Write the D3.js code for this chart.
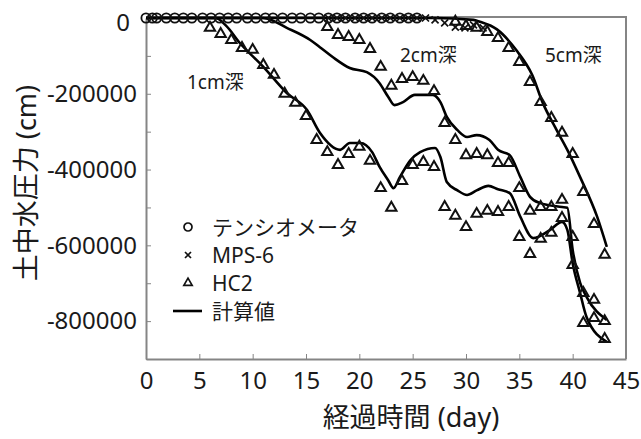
<!DOCTYPE html>
<html lang="ja">
<head>
<meta charset="utf-8">
<title>土中水圧力</title>
<script src="https://cdn.jsdelivr.net/npm/d3@7"></script>
<style>
  html, body { margin: 0; padding: 0; background: #fff; }
  svg text { font-family: "Noto Sans", "Noto Sans CJK JP", sans-serif; fill: #1a1a1a; }
  .axis path, .axis line { stroke: #858585; }
</style>
</head>
<body>
<script>
// テンシオメータ (all at 0)
var tensioDays = [0, 0.6, 1.0, 1.9, 2.7, 3.5, 4.3, 5.3, 6.1, 6.9, 7.7, 8.5, 9.5, 10.3, 11.2, 11.9, 12.8, 13.7, 14.5, 15.4, 16.2, 17.1, 17.9, 18.7, 19.6, 20.4, 21.2, 22.1, 22.9, 23.8, 24.6, 25.4];
var tensioValues = [0, 0, 0, 0, 0, 0, 0, 0, 0, 0, 0, 0, 0, 0, 0, 0, 0, 0, 0, 0, 0, 0, 0, 0, 0, 0, 0, 0, 0, 0, 0, 0];

// MPS-6
var mpsDays = [17.1, 17.9, 18.7, 19.6, 20.4, 21.2, 22.1, 22.9, 23.8, 24.6, 25.4, 26.2, 27.1, 28.0, 29.0, 29.9, 30.7, 31.6];
var mpsValues = [0, 0, 0, 0, 0, 0, 0, 0, 0, 0, 0, 0, -5000, -13000, -24000, -26000, -18000, -26000];

// HC2
var hcDays1 = [6, 7, 8, 9, 10, 11, 12, 13, 14, 15, 16, 17, 18, 19, 20, 21, 22, 23, 24, 25, 26, 27, 28, 29, 30, 31, 32, 33, 34, 35, 36, 37, 38, 39, 40, 41, 42, 43];
var hcValues1 = [-26000, -42000, -58000, -79000, -84000, -124000, -150000, -200000, -224000, -259000, -322000, -354000, -388000, -359000, -340000, -377000, -449000, -501000, -430000, -388000, -380000, -393000, -499000, -522000, -552000, -517000, -509000, -512000, -499000, -578000, -623000, -583000, -567000, -528000, -652000, -805000, -792000, -847000];
var hcDays2 = [17, 18, 19, 20, 21, 22, 23, 24, 25, 26, 27, 28, 29, 30, 31, 32, 33, 34, 35, 36, 37, 38, 39, 40, 41, 42, 43];
var hcValues2 = [-24000, -45000, -50000, -58000, -82000, -129000, -179000, -161000, -156000, -166000, -193000, -277000, -322000, -362000, -359000, -362000, -383000, -383000, -449000, -509000, -499000, -499000, -480000, -578000, -726000, -744000, -800000];
var hcDays5 = [29, 30, 31, 32, 33, 34, 35, 36, 37, 38, 39, 40, 41, 42, 43];
var hcValues5 = [-10000, -21000, -26000, -37000, -53000, -79000, -116000, -169000, -222000, -264000, -303000, -359000, -459000, -544000, -625000];

// 計算値
var calcDays1 = [0, 6.5, 7.5, 8.8, 11, 13.2, 15.1, 16.3, 18.2, 19.1, 20.1, 21.2, 21.9, 22.7, 23.2, 23.8, 24.8, 25.7, 27.1, 27.6, 28.2, 29.2, 30.1, 31, 32.1, 33, 34.1, 35.1, 36.3, 37.9, 39, 39.5, 40, 40.7, 41.3, 43.2];
var calcValues1 = [0, 0, -20000, -66000, -129000, -198000, -243000, -303000, -348000, -330000, -330000, -354000, -393000, -428000, -449000, -420000, -375000, -354000, -343000, -367000, -433000, -455000, -467000, -455000, -443000, -452000, -462000, -525000, -581000, -559000, -538000, -559000, -647000, -726000, -789000, -855000];
var calcDays2 = [0, 11, 13.2, 15.4, 16.3, 17.5, 19.1, 20.7, 21.9, 22.7, 23.3, 24.1, 25.2, 26.9, 27.6, 28.2, 29.2, 30.1, 31, 32.2, 33, 34.1, 35.1, 36, 36.9, 39, 39.5, 40, 40.7, 41.3, 43.2];
var calcValues2 = [0, 0, -26000, -58000, -77000, -103000, -132000, -143000, -172000, -208000, -230000, -222000, -203000, -203000, -222000, -261000, -296000, -314000, -309000, -322000, -348000, -362000, -420000, -472000, -488000, -499000, -501000, -612000, -699000, -736000, -797000];
var calcDays5 = [0, 27, 30.7, 31.3, 32.9, 34.8, 36.2, 37.2, 38.5, 39.5, 40.7, 42.3, 43.2];
var calcValues5 = [0, 0, -5000, -10000, -30000, -88000, -150000, -224000, -296000, -348000, -420000, -525000, -604000];

var xTicks = [0, 5, 10, 15, 20, 25, 30, 35, 40, 45];
var yTicks = [0, -100000, -200000, -300000, -400000, -500000, -600000, -700000, -800000, -900000];
var legendLabels = ["テンシオメータ", "MPS-6", "HC2", "計算値"];
var depthLabels = ["1cm深", "2cm深", "5cm深"];

var svg = d3.select("body").append("svg")
  .attr("width", 641)
  .attr("height", 439);

var x = d3.scaleLinear().domain([0, 45]).range([146, 626]);
var y = d3.scaleLinear().domain([-900000, 0]).range([359, 18]);

// frame (top / right)
svg.append("path")
  .attr("d", "M" + x(0) + "," + (y(0) - 1) + "H" + x(45) + "V" + y(-900000))
  .attr("fill", "none")
  .attr("stroke", "#858585")
  .attr("stroke-width", 2);

var xAxis = svg.append("g")
  .attr("class", "axis")
  .attr("transform", "translate(0," + y(-900000) + ")")
  .call(d3.axisBottom(x).tickValues(xTicks).tickSizeInner(-5).tickSizeOuter(0).tickPadding(13));
xAxis.select(".domain").attr("stroke-width", 2);
xAxis.selectAll("text").attr("font-size", 24);

var yAxis = svg.append("g")
  .attr("class", "axis")
  .attr("transform", "translate(" + x(0) + ",0)")
  .call(d3.axisLeft(y).tickValues(yTicks)
    .tickFormat(function(d) { return (d % 200000 === 0 && d > -900000) ? String(d) : ""; })
    .tickSizeInner(-5).tickSizeOuter(0).tickPadding(9));
yAxis.select(".domain").attr("stroke-width", 2);
yAxis.selectAll("text").attr("font-size", 24);
yAxis.selectAll(".tick").filter(function(d) { return d === 0; }).select("text")
  .attr("dx", -7).attr("dy", "0.5em");

// axis titles
svg.append("text")
  .attr("x", 411).attr("y", 416)
  .attr("text-anchor", "middle")
  .attr("dominant-baseline", "central")
  .attr("font-size", 27)
  .text("経過時間 (day)");

svg.append("text")
  .attr("transform", "translate(25,183) rotate(-90)")
  .attr("text-anchor", "middle")
  .attr("dominant-baseline", "central")
  .attr("font-size", 27)
  .text("土中水圧力 (cm)");

// lines
var line = d3.line()
  .x(function(d) { return x(d[0]); })
  .y(function(d) { return y(d[1]); })
  .curve(d3.curveMonotoneX);

var calcSeries = [
  d3.zip(calcDays1, calcValues1),
  d3.zip(calcDays2, calcValues2),
  d3.zip(calcDays5, calcValues5)
];

svg.append("g").selectAll("path")
  .data(calcSeries)
  .enter()
  .append("path")
  .attr("d", line)
  .attr("fill", "none")
  .attr("stroke", "#000")
  .attr("stroke-width", 2.6);

// HC2 triangles
var tri = d3.symbol().type(d3.symbolTriangle).size(46);
var hcPoints = d3.zip(hcDays1, hcValues1)
  .concat(d3.zip(hcDays2, hcValues2))
  .concat(d3.zip(hcDays5, hcValues5));

svg.append("g").selectAll("path")
  .data(hcPoints)
  .enter()
  .append("path")
  .attr("d", tri)
  .attr("transform", function(d) { return "translate(" + x(d[0]) + "," + y(d[1]) + ")"; })
  .attr("fill", "none")
  .attr("stroke", "#111")
  .attr("stroke-width", 2);

// tensiometer circles
svg.append("g").selectAll("circle")
  .data(d3.zip(tensioDays, tensioValues))
  .enter()
  .append("circle")
  .attr("cx", function(d) { return x(d[0]); })
  .attr("cy", function(d) { return y(d[1]); })
  .attr("r", 4.6)
  .attr("fill", "none")
  .attr("stroke", "#111")
  .attr("stroke-width", 1.8);

// MPS-6 crosses
var cross = "M-3.5,-3.5L3.5,3.5M-3.5,3.5L3.5,-3.5";
svg.append("g").selectAll("path")
  .data(d3.zip(mpsDays, mpsValues))
  .enter()
  .append("path")
  .attr("d", cross)
  .attr("transform", function(d) { return "translate(" + x(d[0]) + "," + y(d[1]) + ")"; })
  .attr("fill", "none")
  .attr("stroke", "#111")
  .attr("stroke-width", 1.7);

// depth labels
var depthPos = [[187, 82], [400, 55], [545, 55]];
svg.append("g").selectAll("text")
  .data(depthLabels)
  .enter()
  .append("text")
  .attr("x", function(d, i) { return depthPos[i][0]; })
  .attr("y", function(d, i) { return depthPos[i][1]; })
  .attr("dominant-baseline", "central")
  .attr("font-size", 19)
  .text(function(d) { return d; });

// legend
var legend = svg.append("g").attr("transform", "translate(188,227)");
var rowH = 28;
legend.append("circle").attr("cx", 0).attr("cy", 0).attr("r", 4)
  .attr("fill", "none").attr("stroke", "#111").attr("stroke-width", 1.7);
legend.append("path").attr("d", "M-3,-3L3,3M-3,3L3,-3")
  .attr("transform", "translate(0," + rowH + ")")
  .attr("stroke", "#111").attr("stroke-width", 1.7);
legend.append("path").attr("d", d3.symbol().type(d3.symbolTriangle).size(30))
  .attr("transform", "translate(0," + (2 * rowH) + ")")
  .attr("fill", "none").attr("stroke", "#111").attr("stroke-width", 1.7);
legend.append("line")
  .attr("x1", -15).attr("x2", 14)
  .attr("y1", 3 * rowH).attr("y2", 3 * rowH)
  .attr("stroke", "#000").attr("stroke-width", 2.6);
legend.selectAll("text")
  .data(legendLabels)
  .enter()
  .append("text")
  .attr("x", 24)
  .attr("y", function(d, i) { return i * rowH; })
  .attr("dominant-baseline", "central")
  .attr("font-size", 21)
  .text(function(d) { return d; });
</script>
</body>
</html>
